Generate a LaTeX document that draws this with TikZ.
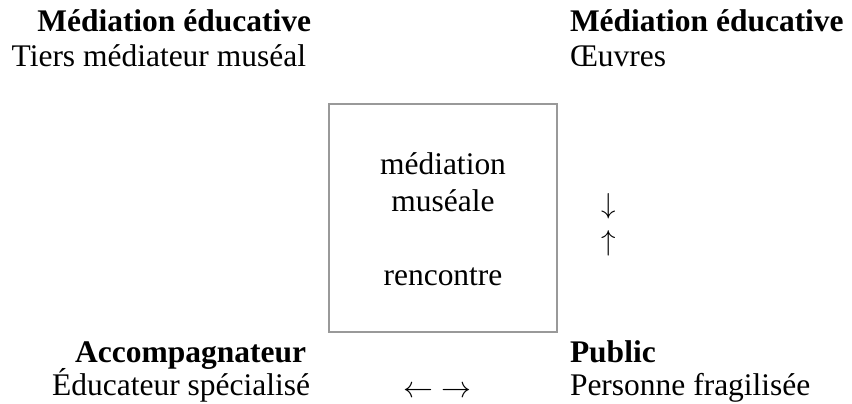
\documentclass[tikz,border=0pt]{standalone}
\usepackage{fix-cm}
\usepackage{fontspec}
\setmainfont{Liberation Serif}
\begin{document}
\begin{tikzpicture}[x=1bp,y=1bp,
  txt/.style={inner sep=0pt, outer sep=0pt, font=\fontsize{31.6}{38}\selectfont},
  ttl/.style={txt, font=\fontsize{31.6}{38}\selectfont\bfseries},
  vsym/.style={inner sep=0pt, outer sep=0pt, font=\fontsize{29}{34}\selectfont},
  hsym/.style={inner sep=0pt, outer sep=0pt, font=\fontsize{30}{36}\selectfont},
  boxframe/.style={draw=black!40, line width=1.3bp, inner sep=0pt, minimum width=228bp, minimum height=228bp}]
\useasboundingbox (0,0) rectangle (852,-403);
% top left
\node[ttl, anchor=base east] (tlh) at (311,-31) {Médiation éducative};
\node[txt, anchor=base east] (tlt) at (306,-66) {Tiers médiateur muséal};
% top right
\node[ttl, anchor=base west] (trh) at (570,-31) {Médiation éducative};
\node[txt, anchor=base west] (trt) at (570,-66) {Œuvres};
% box
\node[boxframe] (box) at (443,-218) {};
\node[txt, anchor=base] (b1) at (443,-174) {médiation};
\node[txt, anchor=base] (b2) at (443,-211) {muséale};
\node[txt, anchor=base] (b3) at (443,-285) {rencontre};
% vertical arrows
\node[vsym, anchor=base] (down) at (609,-213) {$\downarrow$};
\node[vsym, anchor=base] (up) at (609,-250) {$\uparrow$};
% bottom left
\node[ttl, anchor=base east] (blh) at (306,-362) {Accompagnateur};
\node[txt, anchor=base east] (blt) at (310,-395) {Éducateur spécialisé};
% bottom right
\node[ttl, anchor=base west] (brh) at (570,-362) {Public};
\node[txt, anchor=base west] (brt) at (570,-395) {Personne fragilisée};
% horizontal arrows
\node[hsym, anchor=base west] (lr) at (403,-397.5) {$\leftarrow$\hspace{0.3em}$\rightarrow$};
\end{tikzpicture}
\end{document}
